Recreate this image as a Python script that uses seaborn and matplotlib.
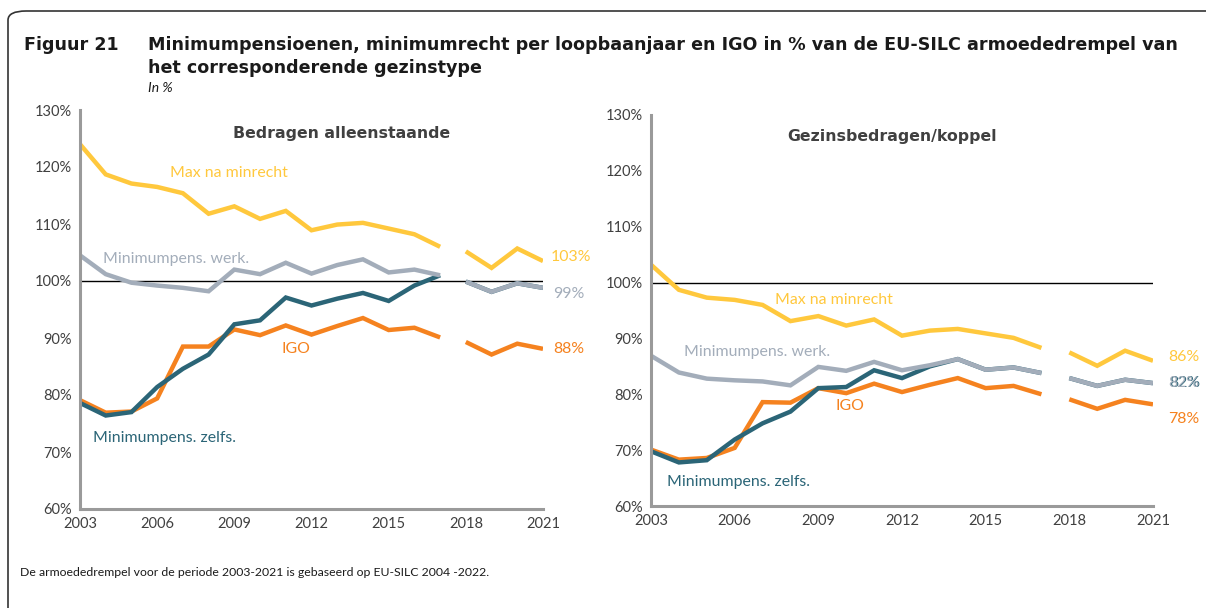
import numpy as np
import pandas as pd
import matplotlib
matplotlib.use("Agg")
import matplotlib.pyplot as plt
from matplotlib.patches import FancyBboxPatch
import seaborn as sns

sns.set_theme(style="white")
plt.rcParams['font.family'] = ['Lato', 'DejaVu Sans']

years = list(range(2003, 2022))

# Bedragen alleenstaande
single_max = [124.0, 118.7, 117.1, 116.5, 115.4, 111.8, 113.1, 110.9, 112.3, 108.9,
              109.9, 110.2, 109.2, 108.2, 106.0, 105.2, 102.3, 105.7, 103.5]
single_werk = [104.5, 101.2, 99.7, 99.2, 98.8, 98.2, 102.0, 101.2, 103.2, 101.3,
               102.8, 103.8, 101.5, 102.0, 101.0, 99.9, 98.1, 99.6, 98.8]
single_zelfs = [78.6, 76.4, 77.0, 81.4, 84.6, 87.1, 92.4, 93.1, 97.1, 95.7,
                96.9, 97.9, 96.5, 99.2, 101.0, 99.9, 98.1, 99.6, 98.8]
single_igo = [79.1, 76.9, 77.1, 79.4, 88.5, 88.5, 91.5, 90.5, 92.2, 90.6,
              92.1, 93.5, 91.4, 91.8, 90.1, 89.3, 87.1, 89.0, 88.1]

# Gezinsbedragen/koppel
couple_max = [103.2, 98.7, 97.3, 96.9, 96.0, 93.1, 94.0, 92.3, 93.4, 90.5,
              91.4, 91.7, 90.9, 90.1, 88.3, 87.5, 85.1, 87.8, 86.0]
couple_werk = [86.9, 83.9, 82.8, 82.5, 82.3, 81.6, 84.9, 84.2, 85.8, 84.3,
               85.2, 86.3, 84.4, 84.8, 83.8, 82.9, 81.5, 82.6, 82.0]
couple_zelfs = [69.8, 67.8, 68.2, 71.9, 74.8, 76.9, 81.1, 81.3, 84.3, 82.9,
                85.0, 86.3, 84.4, 84.8, 83.8, 82.9, 81.5, 82.6, 82.0]
couple_igo = [70.1, 68.3, 68.6, 70.4, 78.6, 78.5, 81.1, 80.2, 81.9, 80.4,
              81.7, 82.9, 81.1, 81.5, 80.0, 79.1, 77.4, 79.0, 78.2]

series_names = ["IGO", "Minimumpens. zelfs.", "Minimumpens. werk.", "Max na minrecht"]
colors = {"Max na minrecht": "#FFC83D", "Minimumpens. werk.": "#A3ADBA",
          "Minimumpens. zelfs.": "#2B6577", "IGO": "#F5821F"}

end_labels_single = ["103%", "99%", "88%"]
end_labels_couple = ["86%", "82%", "78%"]

def make_df(mx, wk, zf, igo):
    rows = []
    for name, vals in zip(series_names, [igo, zf, wk, mx]):
        for y, v in zip(years, vals):
            rows.append({"year": y, "value": v, "series": name,
                         "segment": 0 if y <= 2017 else 1})
    return pd.DataFrame(rows)

df_single = make_df(single_max, single_werk, single_zelfs, single_igo)
df_couple = make_df(couple_max, couple_werk, couple_zelfs, couple_igo)

W, H = 1206, 608
fig = plt.figure(figsize=(W / 100, H / 100), dpi=100)

def fx(px):
    return px / W

def fy(py):
    return 1 - py / H

ax1 = fig.add_axes([fx(80), fy(509), fx(463), (509 - 110) / H])
ax2 = fig.add_axes([fx(651), fy(506), fx(502), (506 - 115) / H])

tick_color = "#404040"
spine_color = "#9A9A9A"
bold_font = ['DejaVu Sans']

for ax, df in [(ax1, df_single), (ax2, df_couple)]:
    for name in series_names:
        for seg in (0, 1):
            sub = df[(df.series == name) & (df.segment == seg)]
            sns.lineplot(data=sub, x="year", y="value", ax=ax, color=colors[name],
                         lw=3.2, estimator=None, legend=False,
                         solid_capstyle="butt", solid_joinstyle="miter")
    ax.axhline(100, color="black", lw=1.0, zorder=1)
    ax.set_xlim(2003, 2021)
    ax.set_ylim(60, 130)
    ax.set_yticks(range(60, 131, 10))
    ax.set_yticklabels([f"{v}%" for v in range(60, 131, 10)])
    ax.set_xticks(range(2003, 2022, 3))
    ax.set_xlabel("")
    ax.set_ylabel("")
    for s in ["top", "right"]:
        ax.spines[s].set_visible(False)
    for s in ["left", "bottom"]:
        ax.spines[s].set_color(spine_color)
        ax.spines[s].set_linewidth(2.2)
    ax.tick_params(axis="both", colors=spine_color, labelcolor=tick_color,
                   labelsize=10.5, length=4, width=1.5, direction="out", pad=2)
    ax.patch.set_alpha(0)

ax2.set_xticks(range(2003, 2022), minor=True)
ax2.tick_params(axis="x", which="minor", length=5, width=1.5, colors=spine_color)

lab_fs = 11.4
# left panel labels
ax1.text(2008.8, 118.9, "Max na minrecht", color=colors["Max na minrecht"], fontsize=lab_fs,
         ha="center", va="center")
ax1.text(2003.9, 103.8, "Minimumpens. werk.", color=colors["Minimumpens. werk."], fontsize=lab_fs,
         ha="left", va="center")
ax1.text(2011.4, 88.0, "IGO", color=colors["IGO"], fontsize=lab_fs, ha="center", va="center")
ax1.text(2003.5, 72.4, "Minimumpens. zelfs.", color=colors["Minimumpens. zelfs."], fontsize=lab_fs,
         ha="left", va="center")
ax1.text(2013.15, 125.9, "Bedragen alleenstaande", color="#404040", fontsize=11.3,
         fontweight="bold", family=bold_font, ha="center", va="center")
ax1.text(2021.3, 104.2, end_labels_single[0], color=colors["Max na minrecht"], fontsize=lab_fs,
         ha="left", va="center", clip_on=False)
ax1.text(2021.4, 97.8, end_labels_single[1], color=colors["Minimumpens. werk."], fontsize=lab_fs,
         ha="left", va="center", clip_on=False)
ax1.text(2021.4, 88.0, end_labels_single[2], color=colors["IGO"], fontsize=lab_fs,
         ha="left", va="center", clip_on=False)

# right panel labels
ax2.text(2009.56, 96.9, "Max na minrecht", color=colors["Max na minrecht"], fontsize=lab_fs,
         ha="center", va="center")
ax2.text(2004.2, 87.6, "Minimumpens. werk.", color=colors["Minimumpens. werk."], fontsize=lab_fs,
         ha="left", va="center")
ax2.text(2010.13, 77.9, "IGO", color=colors["IGO"], fontsize=lab_fs, ha="center", va="center")
ax2.text(2003.57, 64.3, "Minimumpens. zelfs.", color=colors["Minimumpens. zelfs."], fontsize=lab_fs,
         ha="left", va="center")
ax2.text(2011.64, 126.1, "Gezinsbedragen/koppel", color="#404040", fontsize=11.3,
         fontweight="bold", family=bold_font, ha="center", va="center")
ax2.text(2021.55, 86.7, end_labels_couple[0], color=colors["Max na minrecht"], fontsize=lab_fs,
         ha="left", va="center", clip_on=False)
ax2.text(2021.6, 82.1, end_labels_couple[1], color=colors["Minimumpens. zelfs."], fontsize=lab_fs,
         ha="left", va="center", clip_on=False)
ax2.text(2021.55, 82.1, end_labels_couple[1], color=colors["Minimumpens. werk."], fontsize=lab_fs,
         ha="left", va="center", clip_on=False)
ax2.text(2021.55, 75.6, end_labels_couple[2], color=colors["IGO"], fontsize=lab_fs,
         ha="left", va="center", clip_on=False)

# figure texts
title_fs = 12.6
fig.text(fx(24), fy(45), "Figuur 21", fontsize=title_fs, fontweight="bold", color="#1a1a1a",
         family=bold_font, ha="left", va="center")
fig.text(fx(148), fy(45),
         "Minimumpensioenen, minimumrecht per loopbaanjaar en IGO in % van de EU-SILC armoededrempel van",
         fontsize=title_fs, fontweight="bold", color="#1a1a1a", family=bold_font,
         ha="left", va="center")
fig.text(fx(148), fy(68), "het corresponderende gezinstype", fontsize=title_fs, fontweight="bold",
         color="#1a1a1a", family=bold_font, ha="left", va="center")
fig.text(fx(148), fy(88), "In %", fontsize=10, fontstyle="italic", color="#1a1a1a",
         ha="left", va="center")
fig.text(fx(20), fy(573),
         "De armoededrempel voor de periode 2003-2021 is gebaseerd op EU-SILC 2004 -2022.",
         fontsize=8.8, color="#1a1a1a", ha="left", va="center")

# frame
frame = FancyBboxPatch((fx(8), fy(640)), fx(1250), (640 - 11) / H,
                       boxstyle="round,pad=0,rounding_size=0.015",
                       transform=fig.transFigure, fill=False, edgecolor="#333333",
                       lw=1.2, clip_on=False)
fig.patches.append(frame)

fig.savefig("out.png", dpi=100)
